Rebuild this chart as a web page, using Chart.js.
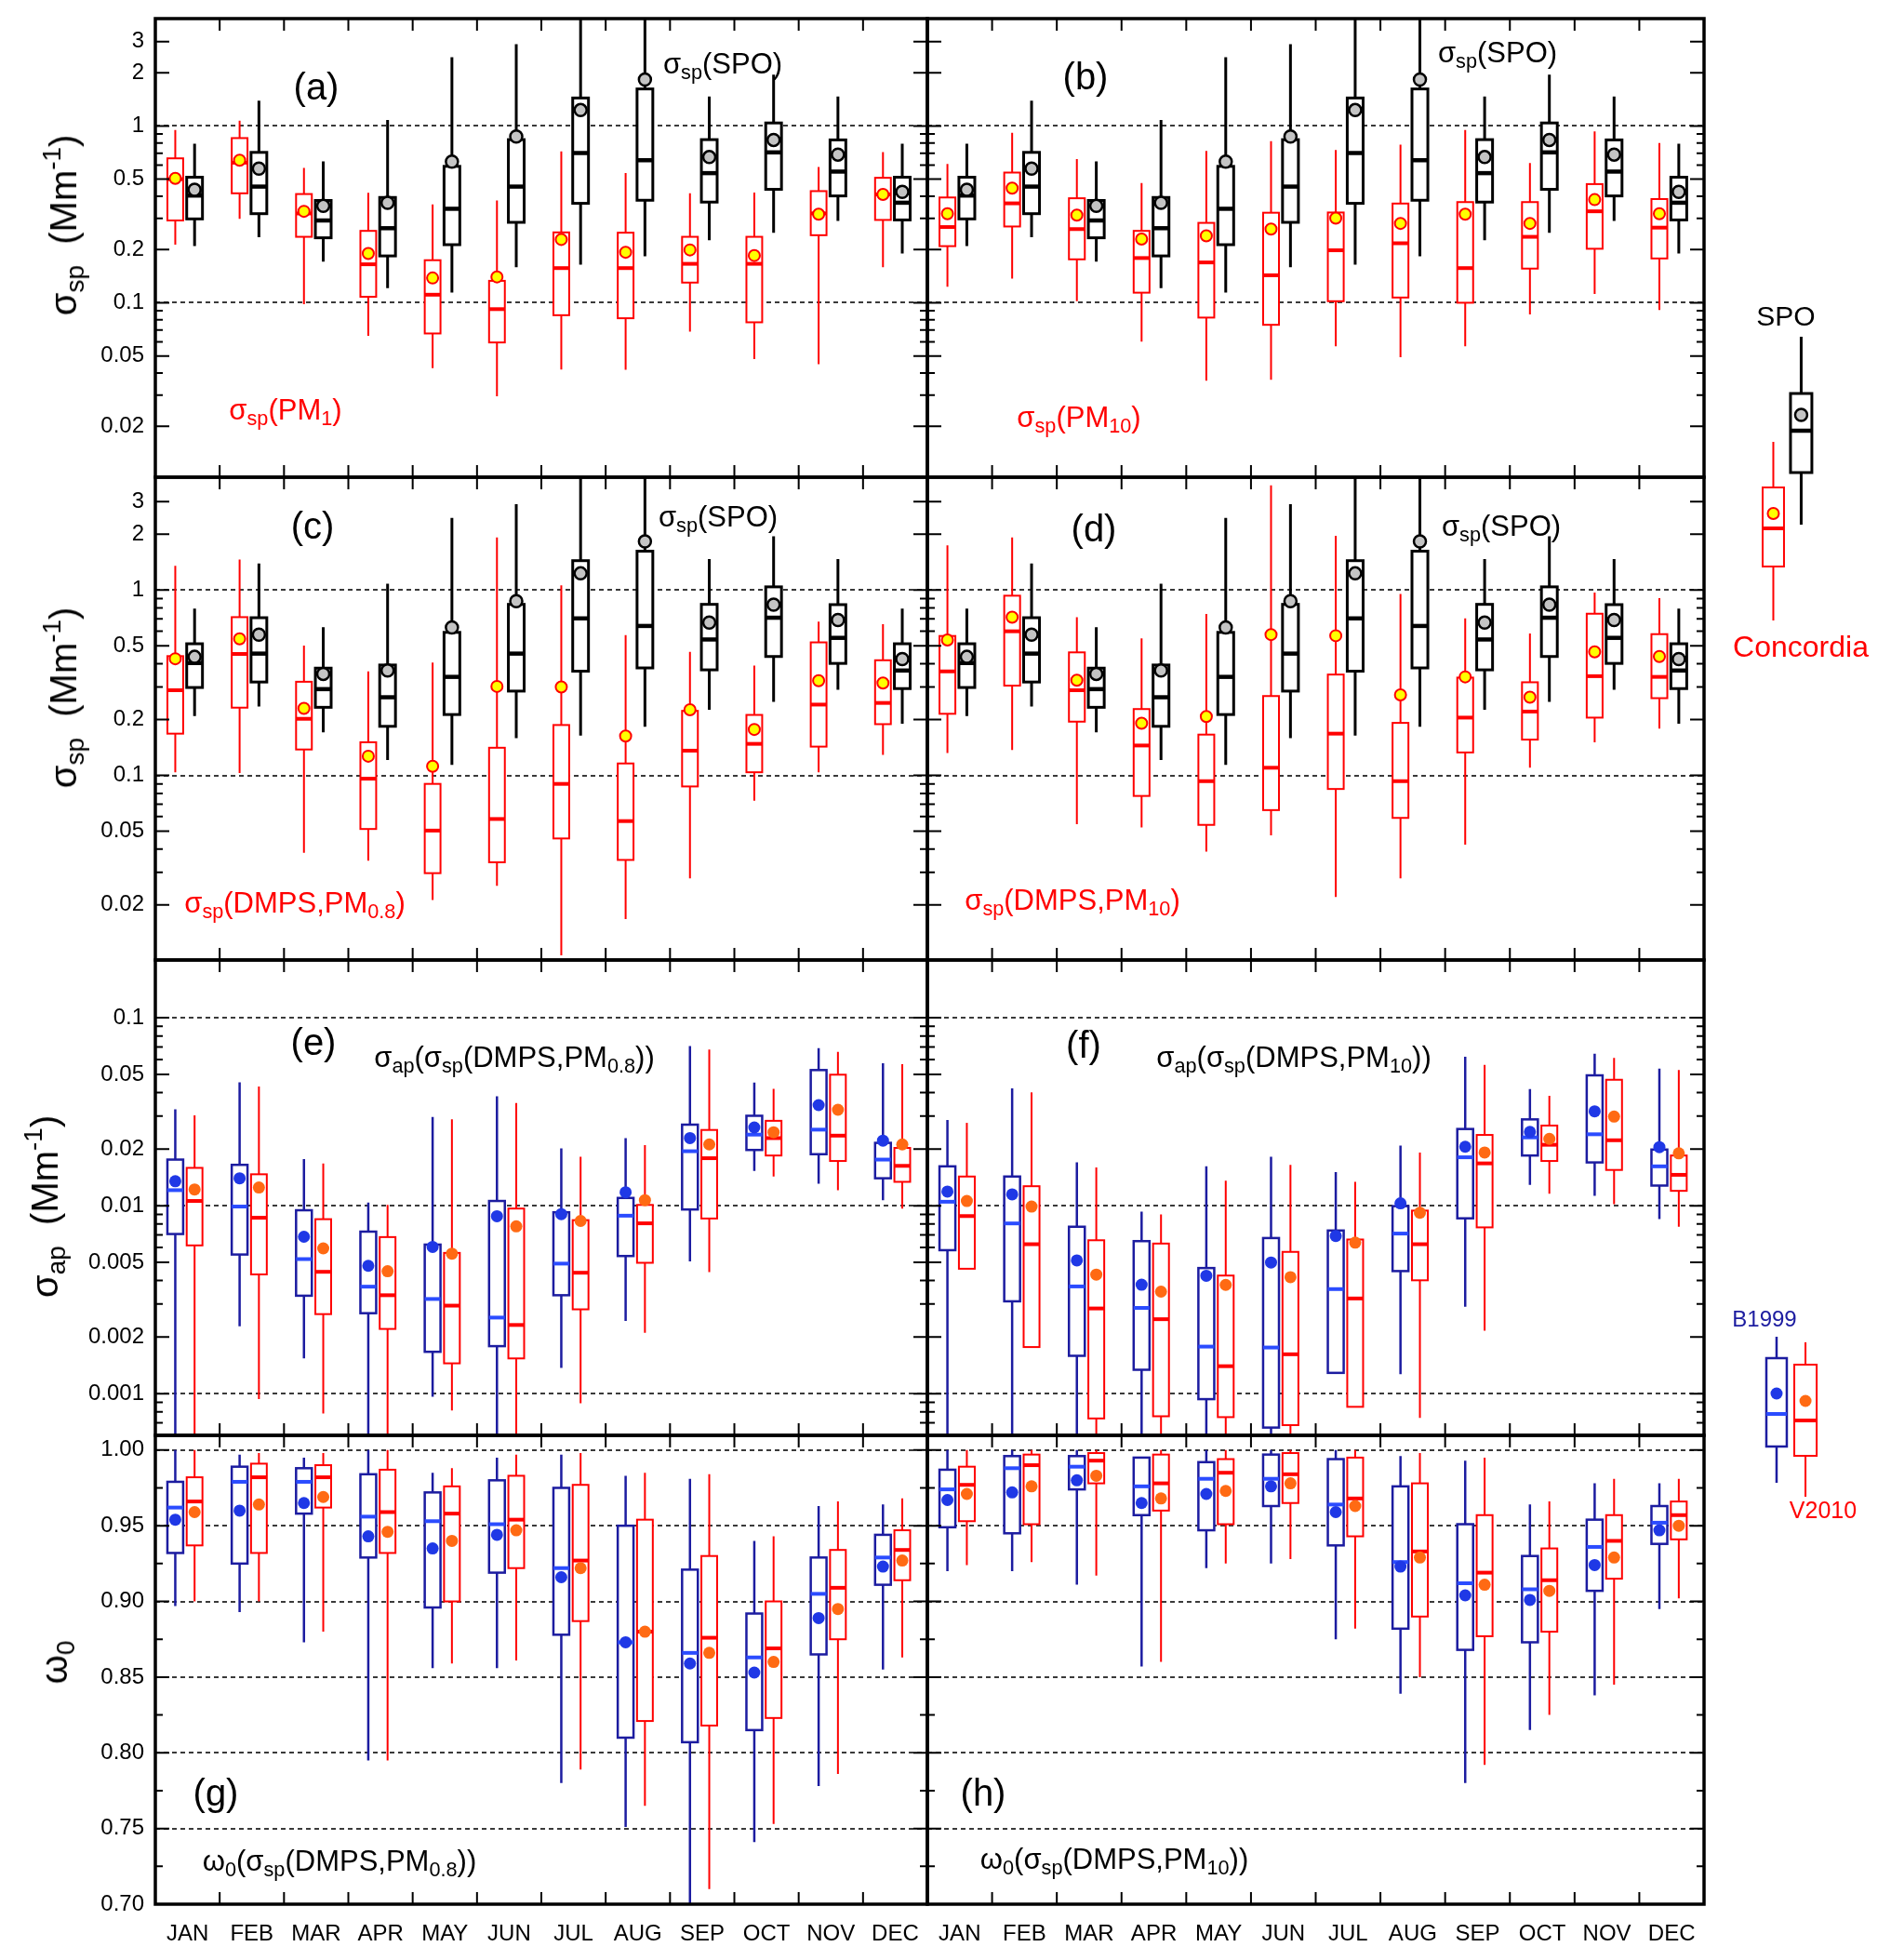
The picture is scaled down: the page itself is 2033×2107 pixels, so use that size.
<!DOCTYPE html>
<html>
<head>
<meta charset="utf-8">
<script src="https://cdn.jsdelivr.net/npm/chart.js@4.4.1/dist/chart.umd.min.js"></script>
<style>
  body { margin: 0; background: #fff; }
  #fig { position: relative; width: 2033px; height: 2107px; font-family: 'Liberation Sans', Arial, sans-serif; }
  #fig canvas { position: absolute; }
  .lbl { position: absolute; white-space: nowrap; line-height: 1; transform: translate(-50%, -50%); }
  .lbl sub { font-size: 70%; vertical-align: -0.3em; line-height: 0; }
  .lbl sup { font-size: 70%; vertical-align: 0.6em; line-height: 0; }
  .rot { transform: translate(-50%, -50%) rotate(-90deg); }
</style>
</head>
<body>
<div id="fig"></div>
<script>
const months = ['JAN', 'FEB', 'MAR', 'APR', 'MAY', 'JUN', 'JUL', 'AUG', 'SEP', 'OCT', 'NOV', 'DEC'];

// every row: [whisker low, 25th pct, median, 75th pct, whisker high, mean]
// SPO scattering, the same in panels a-d
const spoStats = [
  [0.209, 0.298, 0.404, 0.513, 0.794, 0.436],
  [0.235, 0.319, 0.454, 0.709, 1.39, 0.574],
  [0.171, 0.233, 0.292, 0.379, 0.63, 0.353],
  [0.121, 0.184, 0.264, 0.394, 1.08, 0.368],
  [0.114, 0.213, 0.34, 0.591, 2.45, 0.628],
  [0.159, 0.285, 0.454, 0.837, 2.9, 0.871],
  [0.164, 0.365, 0.703, 1.44, 5.0, 1.23],
  [0.183, 0.38, 0.64, 1.62, 5.0, 1.83],
  [0.226, 0.371, 0.541, 0.837, 1.47, 0.667],
  [0.249, 0.438, 0.709, 1.04, 1.95, 0.834],
  [0.29, 0.402, 0.552, 0.834, 1.47, 0.689],
  [0.19, 0.294, 0.368, 0.513, 0.794, 0.424]
];
// Concordia, sigma_sp(PM1)
const pm1Stats = [
  [0.213, 0.292, 0.5, 0.656, 0.95, 0.505],
  [0.298, 0.416, 0.62, 0.854, 1.07, 0.64],
  [0.098, 0.236, 0.32, 0.412, 0.579, 0.329],
  [0.065, 0.108, 0.165, 0.255, 0.419, 0.19],
  [0.0426, 0.067, 0.111, 0.174, 0.36, 0.138],
  [0.0296, 0.0596, 0.092, 0.133, 0.379, 0.14],
  [0.0419, 0.085, 0.157, 0.25, 0.718, 0.228],
  [0.0418, 0.0817, 0.157, 0.249, 0.541, 0.193],
  [0.0687, 0.13, 0.166, 0.236, 0.416, 0.199],
  [0.048, 0.0775, 0.166, 0.236, 0.42, 0.185],
  [0.0449, 0.241, 0.32, 0.428, 0.586, 0.317],
  [0.159, 0.294, 0.41, 0.509, 0.712, 0.41]
];
// Concordia, sigma_sp(PM10)
const pm10Stats = [
  [0.123, 0.209, 0.268, 0.394, 0.61, 0.319],
  [0.137, 0.27, 0.365, 0.545, 0.915, 0.445],
  [0.102, 0.176, 0.261, 0.39, 0.649, 0.313],
  [0.0603, 0.114, 0.179, 0.255, 0.475, 0.229],
  [0.0362, 0.0824, 0.169, 0.283, 0.723, 0.239],
  [0.0367, 0.075, 0.143, 0.323, 0.82, 0.261],
  [0.0567, 0.102, 0.198, 0.324, 0.732, 0.301],
  [0.0492, 0.107, 0.217, 0.364, 0.785, 0.281],
  [0.0567, 0.1, 0.157, 0.371, 0.95, 0.317],
  [0.0858, 0.156, 0.236, 0.371, 0.618, 0.281],
  [0.112, 0.202, 0.329, 0.469, 0.933, 0.383],
  [0.091, 0.178, 0.266, 0.386, 0.8, 0.319]
];
// Concordia, sigma_sp(DMPS, PM0.8)
const dmps08Stats = [
  [0.104, 0.168, 0.288, 0.44, 1.35, 0.426],
  [0.103, 0.232, 0.452, 0.714, 1.46, 0.545],
  [0.0383, 0.138, 0.202, 0.32, 0.502, 0.23],
  [0.0347, 0.0514, 0.096, 0.151, 0.364, 0.127],
  [0.0213, 0.0297, 0.0504, 0.09, 0.406, 0.112],
  [0.0254, 0.034, 0.0582, 0.141, 1.92, 0.302],
  [0.0107, 0.0457, 0.09, 0.187, 1.06, 0.3],
  [0.0168, 0.035, 0.0567, 0.116, 0.571, 0.163],
  [0.0278, 0.0872, 0.136, 0.223, 0.464, 0.226],
  [0.0731, 0.104, 0.148, 0.212, 0.391, 0.177],
  [0.104, 0.143, 0.241, 0.522, 0.676, 0.324],
  [0.129, 0.189, 0.246, 0.418, 0.655, 0.315]
];
// Concordia, sigma_sp(DMPS, PM10)
const dmps10Stats = [
  [0.132, 0.215, 0.364, 0.565, 1.74, 0.538],
  [0.137, 0.305, 0.599, 0.932, 1.92, 0.714],
  [0.0545, 0.195, 0.288, 0.461, 0.714, 0.326],
  [0.0524, 0.0775, 0.145, 0.228, 0.549, 0.191],
  [0.0388, 0.0541, 0.0931, 0.166, 0.742, 0.208],
  [0.0475, 0.065, 0.11, 0.268, 3.67, 0.575],
  [0.0221, 0.0845, 0.168, 0.35, 1.96, 0.567],
  [0.0278, 0.059, 0.0931, 0.192, 0.951, 0.272],
  [0.0423, 0.133, 0.205, 0.337, 0.703, 0.34],
  [0.11, 0.156, 0.221, 0.318, 0.582, 0.264],
  [0.151, 0.205, 0.343, 0.745, 0.969, 0.464],
  [0.179, 0.261, 0.34, 0.578, 0.903, 0.438]
];
// sigma_ap from DMPS PM0.8, B1999 and V2010
const apB08Stats = [
  [0.0005, 0.00707, 0.0121, 0.0176, 0.0326, 0.0135],
  [0.00228, 0.0055, 0.0099, 0.0165, 0.0454, 0.014],
  [0.00154, 0.00332, 0.0052, 0.00946, 0.0177, 0.00684],
  [0.0005, 0.00268, 0.00371, 0.00728, 0.0104, 0.00479],
  [0.000964, 0.00167, 0.00319, 0.00621, 0.0297, 0.00604],
  [0.0005, 0.00179, 0.00254, 0.0106, 0.0382, 0.00879],
  [0.00137, 0.00334, 0.00492, 0.00923, 0.0202, 0.00902],
  [0.00244, 0.0054, 0.00885, 0.011, 0.0229, 0.0118],
  [0.00505, 0.00955, 0.0195, 0.027, 0.0708, 0.0229],
  [0.0153, 0.0198, 0.0239, 0.0301, 0.0452, 0.0261],
  [0.0131, 0.0188, 0.0254, 0.0527, 0.069, 0.0343],
  [0.0107, 0.014, 0.0176, 0.0216, 0.0573, 0.0222]
];
const apV08Stats = [
  [0.0005, 0.00615, 0.0106, 0.0159, 0.0303, 0.0122],
  [0.000935, 0.00431, 0.00863, 0.0147, 0.0431, 0.0125],
  [0.000784, 0.00265, 0.00445, 0.00848, 0.0168, 0.00593],
  [0.0005, 0.00221, 0.00334, 0.00681, 0.0101, 0.00448],
  [0.000813, 0.00145, 0.00294, 0.00561, 0.0288, 0.00556],
  [0.0005, 0.00154, 0.00232, 0.00966, 0.0352, 0.00777],
  [0.000888, 0.00281, 0.0044, 0.00838, 0.0182, 0.0083],
  [0.00211, 0.00497, 0.00806, 0.0101, 0.021, 0.0107],
  [0.00443, 0.00855, 0.0179, 0.0253, 0.0678, 0.0212],
  [0.0143, 0.0185, 0.0229, 0.0283, 0.0419, 0.0246],
  [0.0121, 0.0173, 0.0236, 0.0498, 0.0659, 0.0324],
  [0.00966, 0.0134, 0.0163, 0.0203, 0.0566, 0.0212]
];
// sigma_ap from DMPS PM10
const apB10Stats = [
  [0.0005, 0.0058, 0.0105, 0.0162, 0.0286, 0.0119],
  [0.0005, 0.0031, 0.00805, 0.0143, 0.0421, 0.0115],
  [0.0005, 0.00159, 0.00372, 0.00773, 0.017, 0.00512],
  [0.0005, 0.00134, 0.00286, 0.00648, 0.00931, 0.0038],
  [0.0005, 0.000935, 0.00178, 0.00466, 0.0162, 0.00424],
  [0.0004, 0.00066, 0.00176, 0.00673, 0.0182, 0.00499],
  [0.00129, 0.00129, 0.0036, 0.00738, 0.0151, 0.0069],
  [0.00127, 0.00449, 0.00711, 0.00995, 0.0209, 0.0103],
  [0.0029, 0.00857, 0.0181, 0.0256, 0.062, 0.0206],
  [0.0129, 0.0185, 0.0231, 0.0288, 0.0418, 0.0247],
  [0.0113, 0.017, 0.024, 0.0494, 0.0643, 0.0318],
  [0.0085, 0.0128, 0.0162, 0.0199, 0.0537, 0.0205]
];
const apV10Stats = [
  [0.00462, 0.00462, 0.00881, 0.0143, 0.0276, 0.0106],
  [0.00177, 0.00177, 0.00624, 0.0127, 0.0401, 0.00989],
  [0.0005, 0.000738, 0.00284, 0.00655, 0.016, 0.0043],
  [0.0005, 0.000758, 0.00249, 0.00629, 0.00898, 0.00349],
  [0.0004, 0.00075, 0.0014, 0.00425, 0.0136, 0.00379],
  [0.0004, 0.00068, 0.00162, 0.00568, 0.0165, 0.00417],
  [0.000851, 0.000851, 0.00321, 0.00661, 0.0134, 0.00636],
  [0.000743, 0.00401, 0.00624, 0.00942, 0.0192, 0.00918],
  [0.00216, 0.00767, 0.0168, 0.0238, 0.0562, 0.0192],
  [0.0116, 0.0173, 0.0211, 0.0267, 0.0384, 0.0227],
  [0.0102, 0.0155, 0.0223, 0.0468, 0.0612, 0.0298],
  [0.00773, 0.012, 0.0146, 0.0185, 0.0528, 0.019]
];
// single scattering albedo from DMPS PM0.8
const w0B08Stats = [
  [0.897, 0.932, 0.962, 0.979, 1.0, 0.954],
  [0.893, 0.925, 0.979, 0.989, 0.997, 0.96],
  [0.873, 0.958, 0.979, 0.988, 0.995, 0.965],
  [0.795, 0.929, 0.956, 0.984, 1.0, 0.943],
  [0.856, 0.896, 0.953, 0.972, 0.985, 0.935],
  [0.856, 0.919, 0.951, 0.98, 0.995, 0.944],
  [0.78, 0.878, 0.922, 0.975, 0.997, 0.916],
  [0.751, 0.81, 0.873, 0.95, 0.983, 0.873],
  [0.68, 0.807, 0.866, 0.921, 0.981, 0.859],
  [0.741, 0.815, 0.863, 0.892, 0.94, 0.853],
  [0.778, 0.865, 0.905, 0.929, 0.963, 0.889],
  [0.855, 0.911, 0.929, 0.944, 0.964, 0.923]
];
const w0V08Stats = [
  [0.9, 0.937, 0.966, 0.982, 1.0, 0.959],
  [0.9, 0.932, 0.982, 0.991, 0.998, 0.964],
  [0.88, 0.962, 0.982, 0.99, 0.998, 0.969],
  [0.795, 0.932, 0.959, 0.987, 1.0, 0.946],
  [0.859, 0.9, 0.958, 0.976, 0.988, 0.94],
  [0.861, 0.922, 0.954, 0.983, 0.997, 0.947],
  [0.789, 0.887, 0.927, 0.977, 0.998, 0.922],
  [0.765, 0.821, 0.88, 0.954, 0.985, 0.88],
  [0.71, 0.818, 0.876, 0.93, 0.984, 0.866],
  [0.753, 0.823, 0.869, 0.9, 0.943, 0.86],
  [0.786, 0.875, 0.909, 0.934, 0.966, 0.895],
  [0.863, 0.914, 0.934, 0.947, 0.968, 0.927]
];
// single scattering albedo from DMPS PM10
const w0B10Stats = [
  [0.92, 0.949, 0.974, 0.987, 1.0, 0.967],
  [0.92, 0.945, 0.988, 0.996, 1.0, 0.972],
  [0.911, 0.974, 0.989, 0.996, 1.0, 0.98],
  [0.857, 0.957, 0.976, 0.995, 0.995, 0.965],
  [0.922, 0.947, 0.981, 0.992, 1.0, 0.971],
  [0.925, 0.963, 0.981, 0.997, 1.0, 0.976],
  [0.875, 0.937, 0.964, 0.994, 1.0, 0.959],
  [0.839, 0.882, 0.926, 0.976, 0.996, 0.923],
  [0.78, 0.868, 0.912, 0.951, 0.993, 0.904],
  [0.815, 0.873, 0.908, 0.93, 0.964, 0.901],
  [0.838, 0.907, 0.936, 0.954, 0.978, 0.924],
  [0.895, 0.938, 0.952, 0.963, 0.978, 0.947]
];
const w0V10Stats = [
  [0.924, 0.953, 0.977, 0.989, 1.0, 0.971],
  [0.926, 0.951, 0.99, 0.997, 1.0, 0.976],
  [0.917, 0.978, 0.993, 0.998, 1.0, 0.983],
  [0.86, 0.96, 0.978, 0.997, 1.0, 0.968],
  [0.925, 0.951, 0.985, 0.994, 1.0, 0.973],
  [0.928, 0.965, 0.984, 0.998, 1.0, 0.978],
  [0.882, 0.943, 0.968, 0.995, 1.0, 0.963],
  [0.85, 0.89, 0.933, 0.978, 0.998, 0.929],
  [0.792, 0.877, 0.919, 0.957, 0.995, 0.911],
  [0.825, 0.88, 0.914, 0.935, 0.966, 0.907],
  [0.845, 0.915, 0.94, 0.957, 0.981, 0.929],
  [0.902, 0.941, 0.957, 0.966, 0.981, 0.95]
];

// legend glyphs, in the legend's own units
const legendSpo = [[12.6, 18.2, 22.7, 26.7, 32.8, 24.4]];
const legendCon = [[2.3, 8.1, 12.2, 16.6, 21.5, 13.8]];
const legendB99 = [[2.6, 6.5, 10.0, 16.0, 18.3, 12.2]];
const legendV10 = [[1.1, 5.5, 9.3, 15.3, 17.7, 11.4]];

// labelled ticks and dashed reference lines
const spTicks = [0.02, 0.05, 0.1, 0.2, 0.5, 1, 2, 3];
const apTicks = [0.001, 0.002, 0.005, 0.01, 0.02, 0.05, 0.1];
const w0Ticks = [0.70, 0.75, 0.80, 0.85, 0.90, 0.95, 1.00];
const spDashed = [0.1, 1];
const apDashed = [0.001, 0.01, 0.1];
const w0Dashed = [0.75, 0.80, 0.85, 0.90, 0.95, 1.00];

const RED = '#ff0000';
const styles = {
  spo: { line: '#000', median: '#000', boxW: 3, whiskW: 3, medW: 4.5, fill: '#c4c4c4', edge: '#000', edgeW: 2.5, r: 6.5 },
  con: { line: RED, median: RED, boxW: 2, whiskW: 2, medW: 4, fill: '#ffff00', edge: RED, edgeW: 2, r: 6 },
  b99: { line: '#1c1ca0', median: '#2b4cff', boxW: 2.5, whiskW: 2.5, medW: 4, fill: '#1f38e6', edge: '#1f38e6', edgeW: 0, r: 6.5 },
  v10: { line: RED, median: RED, boxW: 2, whiskW: 2, medW: 4, fill: '#ff6a13', edge: '#ff6a13', edgeW: 0, r: 6.5 }
};

const same = (list, v) => list.some(t => Math.abs(t - v) <= Math.abs(t) * 1e-6);

// box, whiskers and median drawn from the stats through the chart scales
const boxPlot = {
  id: 'boxPlot',
  beforeDatasetsDraw(chart) {
    const { ctx, chartArea: a, scales: { x, y } } = chart;
    ctx.save();
    ctx.beginPath();
    ctx.rect(a.left, a.top, a.right - a.left, a.bottom - a.top);
    ctx.clip();
    chart.data.datasets.forEach(ds => {
      const b = ds.box;
      if (!b) return;
      const st = b.style;
      const half = (x.getPixelForValue(b.width) - x.getPixelForValue(0)) / 2;
      b.stats.forEach((s, i) => {
        const cx = x.getPixelForValue(i + b.offset);
        const [lo, q1, med, q3, hi] = s.slice(0, 5).map(v => y.getPixelForValue(v));
        ctx.strokeStyle = st.line;
        ctx.lineWidth = st.whiskW;
        ctx.beginPath();
        ctx.moveTo(cx, hi); ctx.lineTo(cx, q3);
        ctx.moveTo(cx, q1); ctx.lineTo(cx, lo);
        ctx.stroke();
        ctx.fillStyle = '#fff';
        ctx.fillRect(cx - half, q3, 2 * half, q1 - q3);
        ctx.lineWidth = st.boxW;
        ctx.strokeRect(cx - half, q3, 2 * half, q1 - q3);
        ctx.strokeStyle = st.median;
        ctx.lineWidth = st.medW;
        ctx.beginPath();
        ctx.moveTo(cx - half, med); ctx.lineTo(cx + half, med);
        ctx.stroke();
      });
    });
    ctx.restore();
  }
};

// heavy frame with inward ticks on all four sides
const frame = {
  id: 'frame',
  afterDraw(chart, args, opts) {
    const { ctx, chartArea: a, scales: { x, y } } = chart;
    ctx.save();
    ctx.strokeStyle = '#000';
    ctx.lineWidth = 2;
    ctx.beginPath();
    y.ticks.forEach(t => {
      const py = y.getPixelForValue(t.value);
      if (py < a.top + 3 || py > a.bottom - 3) return;
      const len = same(opts.major, t.value) ? 15 : 8;
      ctx.moveTo(a.left, py); ctx.lineTo(a.left + len, py);
      ctx.moveTo(a.right, py); ctx.lineTo(a.right - len, py);
    });
    for (let i = 0; i < months.length - 1; i++) {
      const px = x.getPixelForValue(i + 0.5);
      ctx.moveTo(px, a.top); ctx.lineTo(px, a.top + 13);
      ctx.moveTo(px, a.bottom); ctx.lineTo(px, a.bottom - 13);
    }
    ctx.stroke();
    ctx.lineWidth = 3.5;
    ctx.strokeRect(a.left, a.top, a.right - a.left, a.bottom - a.top);
    ctx.restore();
  }
};

function logTicks(min, max) {
  const out = [];
  for (let e = -4; e <= 0; e++) {
    for (let k = 1; k <= 9; k++) {
      const v = parseFloat(k + 'e' + e);
      if (v >= min && v <= max) out.push(v);
    }
  }
  return out;
}
function linTicks() {
  const out = [];
  for (let k = 0; k <= 12; k++) out.push(Math.round((0.70 + k * 0.025) * 1000) / 1000);
  return out;
}

function boxSet(label, stats, style, offset) {
  return {
    label,
    box: { stats, offset, width: 0.245, style },
    data: stats.map((s, i) => ({ x: i + offset, y: s[5] })),
    pointRadius: style.r,
    pointBackgroundColor: style.fill,
    pointBorderColor: style.edge,
    pointBorderWidth: style.edgeW
  };
}

const fig = document.getElementById('fig');
function addCanvas(left, top, w, h) {
  const c = document.createElement('canvas');
  c.width = w; c.height = h;
  c.style.left = left + 'px'; c.style.top = top + 'px';
  c.style.width = w + 'px'; c.style.height = h + 'px';
  fig.appendChild(c);
  return c;
}

Chart.defaults.font.family = "'Liberation Sans', Arial, sans-serif";
Chart.defaults.color = '#000';

const colX = [[167, 997], [997, 1832]];
const rowY = [[20, 513], [513, 1032], [1032, 1543], [1543, 2047]];
const PAD = 4, XLAB = 58;

function panel(col, row, sets, yAxis) {
  const [x0, x1] = colX[col];
  const [y0, y1] = rowY[row];
  const last = row === 3;
  const left = col === 0 ? 0 : x0 - PAD;
  const width = col === 0 ? x1 + PAD : x1 - x0 + 2 * PAD;
  const cv = addCanvas(left, y0 - PAD, width, y1 - y0 + PAD + (last ? XLAB : PAD));
  const fmt = yAxis.type === 'linear' ? v => v.toFixed(2) : v => String(v);
  new Chart(cv, {
    type: 'scatter',
    data: { datasets: sets },
    options: {
      responsive: false,
      animation: false,
      events: [],
      layout: { autoPadding: false, padding: { top: PAD, right: PAD, bottom: last ? 0 : PAD, left: col === 0 ? 0 : PAD } },
      plugins: { legend: { display: false }, tooltip: { enabled: false }, frame: { major: yAxis.labelled } },
      scales: {
        x: {
          type: 'linear', min: -0.5, max: 11.5, display: last,
          grid: { display: false }, border: { display: false },
          afterBuildTicks: s => { s.ticks = months.map((m, i) => ({ value: i })); },
          afterFit: s => {
            if (last) s.height = XLAB;
            s.paddingLeft = 0; s.paddingRight = 0;
          },
          ticks: { autoSkip: false, maxRotation: 0, padding: 10, font: { size: 24 }, callback: (v, i) => months[i] }
        },
        y: {
          type: yAxis.type, min: yAxis.min, max: yAxis.max,
          afterBuildTicks: s => { s.ticks = yAxis.all.map(v => ({ value: v })); },
          afterFit: s => {
            s.width = col === 0 ? x0 : 0;
            s.paddingTop = 0; s.paddingBottom = 0;
          },
          grid: {
            drawTicks: false, lineWidth: 2,
            color: c => (c.tick && same(yAxis.dashed, c.tick.value)) ? '#3a3a3a' : 'rgba(0,0,0,0)'
          },
          border: { display: false, dash: [5, 4] },
          ticks: {
            display: col === 0, autoSkip: false, padding: 12, font: { size: 24 },
            callback: v => same(yAxis.labelled, v) ? fmt(v) : ''
          }
        }
      }
    },
    plugins: [boxPlot, frame]
  });
}

const spAxisTop = { type: 'logarithmic', min: 0.0103, max: 4.05, labelled: spTicks, dashed: spDashed };
spAxisTop.all = logTicks(spAxisTop.min, spAxisTop.max);
const spAxisMid = { type: 'logarithmic', min: 0.0101, max: 4.06, labelled: spTicks, dashed: spDashed };
spAxisMid.all = logTicks(spAxisMid.min, spAxisMid.max);
const apAxis = { type: 'logarithmic', min: 0.00064, max: 0.203, labelled: apTicks, dashed: apDashed };
apAxis.all = logTicks(apAxis.min, apAxis.max);
const w0Axis = { type: 'linear', min: 0.70, max: 1.0097, labelled: w0Ticks, dashed: w0Dashed, all: linTicks() };

const L = -0.19, R = 0.11;
panel(0, 0, [boxSet('SPO', spoStats, styles.spo, R), boxSet('Concordia PM1', pm1Stats, styles.con, L)], spAxisTop);
panel(1, 0, [boxSet('SPO', spoStats, styles.spo, R), boxSet('Concordia PM10', pm10Stats, styles.con, L)], spAxisTop);
panel(0, 1, [boxSet('SPO', spoStats, styles.spo, R), boxSet('Concordia DMPS PM0.8', dmps08Stats, styles.con, L)], spAxisMid);
panel(1, 1, [boxSet('SPO', spoStats, styles.spo, R), boxSet('Concordia DMPS PM10', dmps10Stats, styles.con, L)], spAxisMid);
panel(0, 2, [boxSet('B1999', apB08Stats, styles.b99, L), boxSet('V2010', apV08Stats, styles.v10, R)], apAxis);
panel(1, 2, [boxSet('B1999', apB10Stats, styles.b99, L), boxSet('V2010', apV10Stats, styles.v10, R)], apAxis);
panel(0, 3, [boxSet('B1999', w0B08Stats, styles.b99, L), boxSet('V2010', w0V08Stats, styles.v10, R)], w0Axis);
panel(1, 3, [boxSet('B1999', w0B10Stats, styles.b99, L), boxSet('V2010', w0V10Stats, styles.v10, R)], w0Axis);

// legend glyphs: small charts with hidden axes
function legendChart(left, top, w, h, yMax, sets) {
  const cv = addCanvas(left, top, w, h);
  new Chart(cv, {
    type: 'scatter',
    data: { datasets: sets },
    options: {
      responsive: false, animation: false, events: [],
      layout: { autoPadding: false, padding: 0 },
      plugins: { legend: { display: false }, tooltip: { enabled: false } },
      scales: {
        x: { type: 'linear', min: 0, max: 1, display: false },
        y: { type: 'linear', min: 0, max: yMax, display: false }
      }
    },
    plugins: [boxPlot]
  });
}
function legendSet(stats, style, centre, width) {
  const d = boxSet('', stats, style, centre);
  d.box.width = width;
  return d;
}
legendChart(1860, 330, 140, 360, 36, [
  legendSet(legendSpo, styles.spo, 0.546, 0.164),
  legendSet(legendCon, styles.con, 0.332, 0.164)
]);
legendChart(1860, 1420, 140, 200, 20, [
  legendSet(legendB99, styles.b99, 0.357, 0.157),
  legendSet(legendV10, styles.v10, 0.579, 0.172)
]);

// text annotations
const BLUE = '#1c1ca0';
const labels = [
  [340, 93, 40, '#000', '(a)'],
  [777, 68, 31, '#000', '&sigma;<sub>sp</sub>(SPO)'],
  [307, 440, 31, RED, '&sigma;<sub>sp</sub>(PM<sub>1</sub>)'],
  [1167, 82, 40, '#000', '(b)'],
  [1610, 56, 31, '#000', '&sigma;<sub>sp</sub>(SPO)'],
  [1160, 448, 31, RED, '&sigma;<sub>sp</sub>(PM<sub>10</sub>)'],
  [336, 565, 40, '#000', '(c)'],
  [772, 555, 31, '#000', '&sigma;<sub>sp</sub>(SPO)'],
  [317, 970, 31, RED, '&sigma;<sub>sp</sub>(DMPS,PM<sub>0.8</sub>)'],
  [1176, 568, 40, '#000', '(d)'],
  [1614, 565, 31, '#000', '&sigma;<sub>sp</sub>(SPO)'],
  [1153, 967, 31, RED, '&sigma;<sub>sp</sub>(DMPS,PM<sub>10</sub>)'],
  [337, 1120, 40, '#000', '(e)'],
  [553, 1136, 31, '#000', '&sigma;<sub>ap</sub>(&sigma;<sub>sp</sub>(DMPS,PM<sub>0.8</sub>))'],
  [1165, 1123, 40, '#000', '(f)'],
  [1391, 1136, 31, '#000', '&sigma;<sub>ap</sub>(&sigma;<sub>sp</sub>(DMPS,PM<sub>10</sub>))'],
  [232, 1927, 40, '#000', '(g)'],
  [365, 2000, 31, '#000', '&omega;<sub>0</sub>(&sigma;<sub>sp</sub>(DMPS,PM<sub>0.8</sub>))'],
  [1057, 1927, 40, '#000', '(h)'],
  [1198, 1998, 31, '#000', '&omega;<sub>0</sub>(&sigma;<sub>sp</sub>(DMPS,PM<sub>10</sub>))'],
  [1920, 340, 30, '#000', 'SPO'],
  [1936, 695, 32, RED, 'Concordia'],
  [1897, 1418, 24, BLUE, 'B1999'],
  [1960, 1623, 25, RED, 'V2010']
];
const titles = [
  [68, 242, '&sigma;<sub>sp</sub>&nbsp;&nbsp;(Mm<sup>-1</sup>)'],
  [68, 750, '&sigma;<sub>sp</sub>&nbsp;&nbsp;(Mm<sup>-1</sup>)'],
  [48, 1297, '&sigma;<sub>ap</sub>&nbsp;&nbsp;(Mm<sup>-1</sup>)'],
  [58, 1787, '&omega;<sub>0</sub>']
];
labels.forEach(([x, y, size, color, html]) => {
  const d = document.createElement('div');
  d.className = 'lbl';
  d.style.left = x + 'px'; d.style.top = y + 'px';
  d.style.fontSize = size + 'px'; d.style.color = color;
  d.innerHTML = html;
  fig.appendChild(d);
});
titles.forEach(([x, y, html]) => {
  const d = document.createElement('div');
  d.className = 'lbl rot';
  d.style.left = x + 'px'; d.style.top = y + 'px';
  d.style.fontSize = '40px';
  d.innerHTML = html;
  fig.appendChild(d);
});
</script>
</body>
</html>
